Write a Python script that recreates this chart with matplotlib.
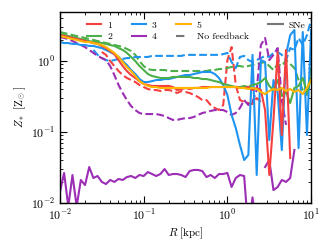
import numpy as np
import matplotlib
matplotlib.use("Agg")
import matplotlib.pyplot as plt
from matplotlib.lines import Line2D

nan = np.nan

# radius grid, 0.05 dex steps from 0.01 to 10 kpc
R = 10 ** np.arange(-2, 1.0001, 0.05)

# SNe runs (solid)
z_sne_1 = [2.32, 2.25, 2.18, 2.11, 2.04, 1.98, 1.91, 1.85, 1.79, 1.74, 1.63, 1.52, 1.38, 1.25, 1.03,
           0.85, 0.72, 0.635, 0.576, 0.52, 0.475, 0.46, 0.445, 0.445, 0.445, 0.445, 0.445, 0.43, 0.39,
           0.403, 0.417, 0.403, 0.417, 0.417, 0.43, 0.43, 0.43, 0.43, 0.43, 0.43, 0.43, 0.43, 0.43,
           0.417, 0.417, 0.43, 0.39, 0.417, 0.39, 0.204, 0.0248, 0.148, 1.34, 0.0907, 1.43, 0.043]
z_sne_2 = [2.40, 2.32, 2.25, 2.18, 2.11, 2.04, 1.98, 1.91, 1.85, 1.85, 1.79, 1.74, 1.68, 1.63, 1.52,
           1.43, 1.30, 1.14, 1.0, 0.85, 0.747, 0.656, 0.615, 0.596, 0.576, 0.576, 0.576, 0.596, 0.596,
           0.596, 0.596, 0.596, 0.576, 0.576, 0.557, 0.557, 0.54, 0.52, 0.506, 0.475, 0.46, 0.445, 0.43,
           0.43, 0.445, 0.43, 0.46, 0.475, 0.506, 0.576, 0.445, 0.39, 0.54, 0.321, 0.366, 0.256, 0.417,
           0.445, 0.576, 0.366, 0.576]
z_sne_3 = [1.85, 1.79, 1.79, 1.74, 1.74, 1.68, 1.68, 1.63, 1.63, 1.57, 1.52, 1.43, 1.34, 1.25, 1.14,
           1.0, 0.878, 0.747, 0.656, 0.557, 0.506, 0.506, 0.52, 0.54, 0.54, 0.557, 0.557, 0.576, 0.596,
           0.615, 0.635, 0.635, 0.656, 0.677, 0.70, 0.70, 0.70, 0.656, 0.576, 0.46, 0.332, 0.174, 0.114,
           0.0656, 0.0403, 0.0474, 1.22, 0.0248, 1.03, 0.97, 0.0771, 0.54, 0.366, 0.0558, 1.22, 2.32,
           2.73, 0.0595, 2.56, 0.0907, 2.73]
z_sne_4 = [0.0143, 0.0265, 0.009, 0.0248, 0.009, 0.0211, 0.0179, 0.0321, 0.0225, 0.024, 0.0198, 0.0185,
           0.0211, 0.0198, 0.0218, 0.0211, 0.0232, 0.024, 0.0225, 0.0248, 0.024, 0.0273, 0.0256, 0.024,
           0.0256, 0.0301, 0.0248, 0.0256, 0.0256, 0.0248, 0.0232, 0.0282, 0.0292, 0.0292, 0.0282, 0.0232,
           0.0248, 0.0225, 0.0256, 0.0256, 0.0265, 0.0168, 0.0225, 0.0248, 0.024, 0.004, 0.012, 0.004, nan,
           0.0321, 0.0403, 0.0152, 0.0168, 0.0211, 0.0198, 0.0225, 0.0558]
z_sne_5 = [2.25, 2.18, 2.11, 2.04, 1.98, 1.91, 1.85, 1.85, 1.79, 1.74, 1.68, 1.57, 1.43, 1.30, 1.14,
           0.97, 0.82, 0.72, 0.615, 0.52, 0.475, 0.445, 0.43, 0.43, 0.417, 0.417, 0.417, 0.417, 0.417,
           0.417, 0.417, 0.417, 0.417, 0.417, 0.417, 0.417, 0.43, 0.43, 0.43, 0.43, 0.43, 0.43, 0.43,
           0.417, 0.417, 0.403, 0.417, 0.403, 0.366, 0.343, 0.378, 0.403, 0.39, 0.417, 0.378, 0.403,
           0.366, 0.39, 0.343, 0.417, 0.54]

# no-feedback runs (dashed)
z_nofb_1 = [nan] * 10 + [1.34, 1.22, 1.0, 0.85, 0.723, 0.635, 0.576, 0.54, 0.506, 0.46, 0.43, 0.403,
                         0.39, 0.39, 0.378, 0.39, 0.39, 0.378, 0.354, 0.378, 0.366, 0.354, 0.332, 0.311,
                         0.282, 0.282, 0.24, 0.218, 0.204, 0.24, 1.03, 1.57, 0.46, 0.282, 0.265, 0.256,
                         0.248, 0.301, 0.265]
z_nofb_2 = [2.56, 2.48, 2.40, 2.32, 2.25, 2.18, 2.11, 2.04, 1.98, 1.91, 1.85, 1.79, 1.74, 1.68, 1.63,
            1.57, 1.48, 1.38, 1.22, 1.0, 0.85, 0.771, 0.747, 0.747, 0.747, 0.747, 0.723, 0.723, 0.723,
            0.723, 0.723, 0.723, 0.723, 0.723, 0.723, 0.723, 0.747, 0.747, 0.771, 0.771, 0.797, 0.824,
            0.85, 0.85, 0.824, 0.85, 0.878, 0.907, 0.937, 0.968, 0.85, 0.747, 0.907, 0.85, 1.03, 0.907,
            0.797, 0.54, 0.39, 0.332, 0.797]
z_nofb_3 = [nan] * 8 + [1.43, 1.22, 1.10, 1.03, 1.0, 1.03, 1.07, 1.07, 1.10, 1.10, 1.14, 1.14, 1.14,
                        1.14, 1.18, 1.18, 1.18, 1.18, 1.18, 1.18, 1.18, 1.18, 1.22, 1.22, 1.22, 1.22,
                        1.22, 1.22, 1.22, 1.22, 1.22, 1.25, 1.30, 0.968, 0.797, 1.14, 1.18, 1.03, 0.968,
                        1.03, 1.10, 1.18, 1.14, 1.30, 1.34, 1.22, 1.03, 1.52, 1.43, 2.11, 1.68, 2.32, 3.78]
z_nofb_4 = [2.18, 2.11, 2.04, 1.91, 1.79, 1.68, 1.57, 1.43, 1.30, 1.18, 1.10, 1.03, 0.85, 0.635, 0.46,
            0.354, 0.282, 0.232, 0.204, 0.185, 0.179, 0.179, 0.179, 0.179, 0.174, 0.168, 0.157, 0.148,
            0.148, 0.153, 0.157, 0.157, 0.163, 0.174, 0.185, 0.191, 0.198, 0.204, 0.204, 0.204, 0.191,
            0.174, 0.185, 0.218, 0.282, 0.24, 0.265, 0.39, 1.68, 2.11, 1.03, 1.22, 1.52, 0.282, 0.126]

labels = ["1", "2", "3", "4", "5"]
colors = ["#f5403f", "#4caf4a", "#1e94f0", "#9c2db5", "#ffb400"]
sne = [z_sne_1, z_sne_2, z_sne_3, z_sne_4, z_sne_5]
nofb = [z_nofb_1, z_nofb_2, z_nofb_3, z_nofb_4, None]

plt.rcParams.update({
    "font.family": "serif",
    "font.serif": ["cmr10"],
    "mathtext.fontset": "cm",
    "axes.unicode_minus": False,
    "axes.formatter.use_mathtext": True,
    "font.size": 8,
})

fig = plt.figure(figsize=(3.31, 2.5), dpi=100)
ax = fig.add_axes([0.181, 0.188, 0.759, 0.764])

lw = 1.5
for z, c in zip(nofb, colors):
    if z is None:
        continue
    ax.plot(R[:len(z)], z, color=c, lw=lw, ls="--")
for k in [2, 1, 3, 0, 4]:
    z = sne[k]
    ax.plot(R[:len(z)], z, color=colors[k], lw=lw)

ax.set_xscale("log")
ax.set_yscale("log")
ax.set_xlim(1e-2, 1e1)
ax.set_ylim(1e-2, 4.9)
ax.set_xlabel(r"$R\ [\mathrm{kpc}]$", labelpad=2)
ax.set_ylabel(r"$Z_*\ [\mathrm{Z}_\odot]$", labelpad=2)
ax.tick_params(which="both", direction="in", top=True, right=True, labelsize=8.5)
ax.tick_params(which="major", length=5, width=0.8)
ax.tick_params(which="minor", length=2.5, width=0.6)
for s in ax.spines.values():
    s.set_linewidth(1.0)

handles = [Line2D([], [], color=c, lw=lw) for c in colors]
handles += [Line2D([], [], color="#777777", lw=lw, dashes=(4.0, 5.0)),
            Line2D([], [], color="#777777", lw=lw)]
names = labels + ["No feedback", "SNe"]
ax.legend(handles, names, ncol=4, loc="upper left", bbox_to_anchor=(0.08, 0.99),
          frameon=False, fontsize=7, handlelength=1.5, columnspacing=2.0,
          handletextpad=0.6, labelspacing=0.3, borderaxespad=0.3)

fig.savefig("out.png", dpi=100)
